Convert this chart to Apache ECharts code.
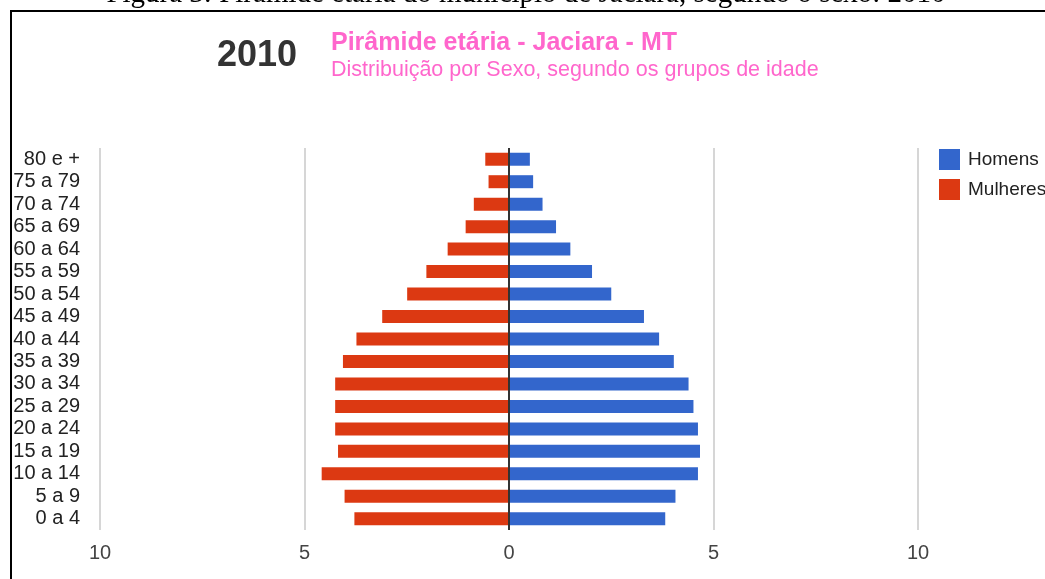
<!DOCTYPE html>
<html>
<head>
<meta charset="utf-8">
<script src="https://cdn.jsdelivr.net/npm/echarts@6/dist/echarts.min.js"></script>
<style>
html,body{margin:0;padding:0;background:#fff;}
#chart{width:1045px;height:579px;}
</style>
</head>
<body>
<div id="chart"></div>
<script>
var categories = ['0 a 4','5 a 9','10 a 14','15 a 19','20 a 24','25 a 29','30 a 34','35 a 39','40 a 44','45 a 49','50 a 54','55 a 59','60 a 64','65 a 69','70 a 74','75 a 79','80 e +'];
var homens = [3.82, 4.07, 4.62, 4.67, 4.62, 4.51, 4.39, 4.03, 3.67, 3.30, 2.50, 2.03, 1.50, 1.15, 0.82, 0.59, 0.51];
var mulheres = [3.78, 4.02, 4.58, 4.18, 4.25, 4.25, 4.25, 4.06, 3.73, 3.10, 2.49, 2.02, 1.50, 1.06, 0.86, 0.50, 0.58];
var xTicks = [-10, -5, 0, 5, 10];
var captionText = 'Figura 3: Pirâmide etária do município de Jaciara, segundo o sexo: 2010';
var yearText = '2010';
var titleText = 'Pirâmide etária - Jaciara - MT';
var subtitleText = 'Distribuição por Sexo, segundo os grupos de idade';

var chart = echarts.init(document.getElementById('chart'), null, {renderer: 'canvas'});
var font = 'Liberation Sans, Arial, sans-serif';
var option = {
  animation: false,
  backgroundColor: '#ffffff',
  textStyle: {fontFamily: font},
  graphic: [
    {type: 'text', x: 526, y: -6, style: {text: captionText, font: '29px "Liberation Serif", "Times New Roman", serif', fill: '#000', textAlign: 'center', textVerticalAlign: 'middle'}},
    {type: 'rect', shape: {x: 11, y: 11, width: 1200, height: 1000}, style: {fill: 'none', stroke: '#000', lineWidth: 2}},
    {type: 'text', x: 217, y: 56, style: {text: yearText, font: 'bold 36px ' + font, fill: '#333333', textAlign: 'left', textVerticalAlign: 'middle'}},
    {type: 'text', x: 331, y: 43, style: {text: titleText, font: 'bold 25px ' + font, fill: '#ff66cc', textAlign: 'left', textVerticalAlign: 'middle'}},
    {type: 'text', x: 331, y: 70, style: {text: subtitleText, font: '21.5px ' + font, fill: '#ff66cc', textAlign: 'left', textVerticalAlign: 'middle'}}
  ],
  legend: {
    orient: 'vertical',
    left: 939,
    top: 149,
    padding: 0,
    itemWidth: 21,
    itemHeight: 21,
    itemGap: 9,
    icon: 'rect',
    textStyle: {fontSize: 19, color: '#222', fontFamily: font, padding: [0, 0, 0, 3]},
    data: ['Homens', 'Mulheres']
  },
  grid: {left: 100, top: 148, width: 818, bottom: 49, containLabel: false},
  xAxis: {
    type: 'value',
    min: xTicks[0],
    max: xTicks[xTicks.length - 1],
    interval: 5,
    axisLine: {show: false},
    axisTick: {show: false},
    splitLine: {show: true, lineStyle: {color: '#d6d6d6', width: 2}},
    axisLabel: {fontSize: 20, color: '#444', margin: 13, fontFamily: font,
      formatter: function (v) { return String(Math.abs(v)); }}
  },
  yAxis: {
    type: 'category',
    data: categories,
    axisLine: {show: false},
    axisTick: {show: false},
    splitLine: {show: false},
    axisLabel: {fontSize: 20, color: '#222', margin: 20, interval: 0, fontFamily: font}
  },
  series: [
    {
      name: 'Homens', type: 'bar', stack: 'pop', barWidth: 13,
      itemStyle: {color: '#3366cc'},
      data: homens,
      markLine: {
        silent: true, symbol: ['none', 'none'], label: {show: false},
        lineStyle: {color: '#333', width: 2, type: 'solid'},
        data: [{xAxis: 0}]
      }
    },
    {
      name: 'Mulheres', type: 'bar', stack: 'pop', barWidth: 13,
      itemStyle: {color: '#dc3912'},
      data: mulheres.map(function (v) { return -v; })
    }
  ]
};
chart.setOption(option);
</script>
</body>
</html>
